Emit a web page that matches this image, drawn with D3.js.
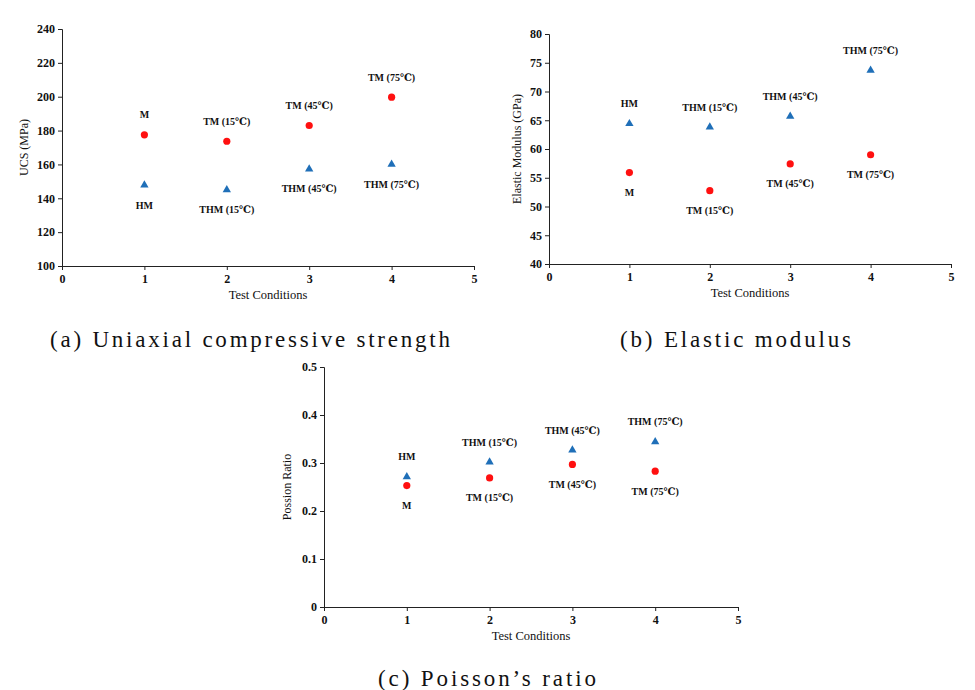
<!DOCTYPE html>
<html>
<head>
<meta charset="utf-8">
<script src="https://cdn.jsdelivr.net/npm/d3@7"></script>
<style>
  html, body { margin: 0; padding: 0; background: #fff; }
  svg { display: block; }
</style>
</head>
<body>
<svg id="chart" width="975" height="690"></svg>
<script>
// ---- Data ----
const conditions = [1, 2, 3, 4];

const ucsTM   = [177.5, 173.7, 183.0, 199.7];
const ucsTHM  = [147.8, 145.0, 157.3, 160.0];
const ucsTMLabels  = ["M", "TM (15℃)", "TM (45℃)", "TM (75℃)"];
const ucsTHMLabels = ["HM", "THM (15℃)", "THM (45℃)", "THM (75℃)"];

const emTM   = [55.9, 52.75, 57.4, 59.0];
const emTHM  = [64.4, 63.8, 65.7, 73.7];
const emTMLabels  = ["M", "TM (15℃)", "TM (45℃)", "TM (75℃)"];
const emTHMLabels = ["HM", "THM (15℃)", "THM (45℃)", "THM (75℃)"];

const prTM   = [0.253, 0.269, 0.297, 0.283];
const prTHM  = [0.271, 0.302, 0.327, 0.344];
const prTMLabels  = ["M", "TM (15℃)", "TM (45℃)", "TM (75℃)"];
const prTHMLabels = ["HM", "THM (15℃)", "THM (45℃)", "THM (75℃)"];

const xTicks   = [0, 1, 2, 3, 4, 5];
const ucsTicks = [100, 120, 140, 160, 180, 200, 220, 240];
const emTicks  = [40, 45, 50, 55, 60, 65, 70, 75, 80];
const prTicks  = [0, 0.1, 0.2, 0.3, 0.4, 0.5];

const xTitle = "Test Conditions";
const captions = ["(a) Uniaxial compressive strength", "(b) Elastic modulus", "(c) Poisson\u2019s ratio"];

// ---- Drawing ----
const svg = d3.select("#chart");
const serif = "'Liberation Serif', 'DejaVu Serif', serif";
const RED = "#ff1010";
const BLUE = "#1f6fb8";

function panel(cfg) {
  const g = svg.append("g");
  const x = d3.scaleLinear().domain([0, 5]).range(cfg.xr);
  const y = d3.scaleLinear().domain(cfg.yd).range(cfg.yr);

  const yAxis = d3.axisLeft(y).tickValues(cfg.yTicks).tickSize(4).tickPadding(3)
    .tickFormat(cfg.fmt);
  const xAxis = d3.axisBottom(x).tickValues(xTicks).tickSize(4).tickPadding(4)
    .tickFormat(d3.format("d"));

  const ya = g.append("g").attr("transform", `translate(${cfg.xr[0]},0)`).call(yAxis);
  const xa = g.append("g").attr("transform", `translate(0,${cfg.yr[0]})`).call(xAxis);
  [ya, xa].forEach(a => {
    a.select(".domain").attr("stroke", "#222").attr("stroke-width", 1);
    a.selectAll(".tick line").attr("stroke", "#222");
    a.selectAll("text").attr("font-family", serif).attr("font-size", 12)
      .attr("fill", "#111").attr("font-weight", "bold");
  });

  // axis titles
  g.append("text").attr("x", (cfg.xr[0] + cfg.xr[1]) / 2).attr("y", cfg.yr[0] + 33)
    .attr("text-anchor", "middle").attr("font-family", serif).attr("font-size", 12.5)
    .attr("fill", "#111").text(xTitle);
  g.append("text")
    .attr("transform", `translate(${cfg.yTitleX},${(cfg.yr[0] + cfg.yr[1]) / 2}) rotate(-90)`)
    .attr("text-anchor", "middle").attr("dy", "0.35em").attr("font-family", serif)
    .attr("font-size", 12).attr("fill", "#111").text(cfg.yTitle);

  const series = [
    { vals: cfg.tm, labels: cfg.tmLabels, kind: "circle", color: RED, other: cfg.thm },
    { vals: cfg.thm, labels: cfg.thmLabels, kind: "triangle", color: BLUE, other: cfg.tm }
  ];
  series.forEach(s => {
    const pts = conditions.map((c, i) => ({ c, v: s.vals[i], lab: s.labels[i], o: s.other[i] }));
    if (s.kind === "circle") {
      g.selectAll(null).data(pts).join("circle")
        .attr("cx", d => x(d.c)).attr("cy", d => y(d.v)).attr("r", 3.6).attr("fill", s.color);
    } else {
      const tri = d3.symbol().type(d3.symbolTriangle).size(30);
      g.selectAll(null).data(pts).join("path")
        .attr("d", tri).attr("fill", s.color)
        .attr("transform", d => `translate(${x(d.c)},${y(d.v)})`);
    }
    g.selectAll(null).data(pts).join("text")
      .attr("x", d => x(d.c))
      .attr("y", d => y(d.v) + (d.v > d.o ? -20 : 20))
      .attr("dy", "0.35em").attr("text-anchor", "middle")
      .attr("font-family", serif).attr("font-size", 10).attr("font-weight", "bold")
      .attr("fill", "#111").text(d => d.lab);
  });
}

panel({ xr: [62, 474], yr: [266, 29], yd: [100, 240], yTicks: ucsTicks, fmt: d3.format("d"),
  yTitle: "UCS (MPa)", yTitleX: 24, tm: ucsTM, thm: ucsTHM, tmLabels: ucsTMLabels, thmLabels: ucsTHMLabels });
panel({ xr: [549, 951], yr: [264, 34], yd: [40, 80], yTicks: emTicks, fmt: d3.format("d"),
  yTitle: "Elastic Modulus (GPa)", yTitleX: 517, tm: emTM, thm: emTHM, tmLabels: emTMLabels, thmLabels: emTHMLabels });
panel({ xr: [324, 738], yr: [607, 367], yd: [0, 0.5], yTicks: prTicks, fmt: d => d === 0 ? "0" : d3.format(".1f")(d),
  yTitle: "Possion Ratio", yTitleX: 287, tm: prTM, thm: prTHM, tmLabels: prTMLabels, thmLabels: prTHMLabels });

// captions
const capPos = [[50, 347, 400], [620, 347, 231], [378, 686, 218]];
captions.forEach((t, i) => {
  svg.append("text").attr("x", capPos[i][0]).attr("y", capPos[i][1])
    .attr("font-family", serif).attr("font-size", 23).attr("fill", "#111")
    .attr("textLength", capPos[i][2]).attr("lengthAdjust", "spacing")
    .text(t);
});
</script>
</body>
</html>
